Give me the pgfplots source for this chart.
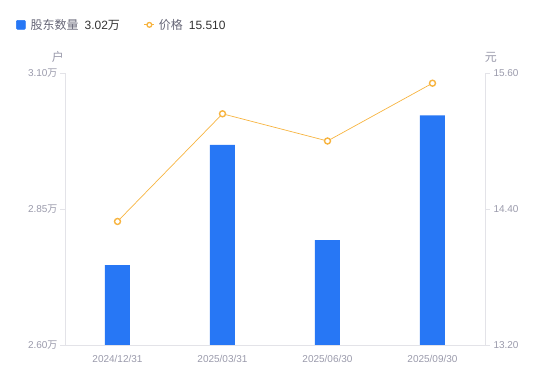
\documentclass[border=0pt]{standalone}
\usepackage{pgfplots}
\pgfplotsset{compat=1.18}
\usepackage{fontspec}
\setmainfont{Liberation Sans}
\newfontfamily\cjk{Noto Sans CJK SC}
\definecolor{barblue}{HTML}{2777F5}
\definecolor{lineorange}{HTML}{F7B440}
\definecolor{txtgray}{HTML}{9A9AAB}
\definecolor{axgray}{HTML}{E3E3E8}
\definecolor{namegray}{HTML}{666677}
\definecolor{dark}{HTML}{333333}
\begin{document}
\begin{tikzpicture}[x=1pt,y=1pt]
\path[use as bounding box] (0,0) rectangle (550,381);
\begin{axis}[
  at={(65pt,36pt)}, anchor=south west,
  scale only axis, width=420pt, height=272pt,
  xmin=-0.5, xmax=3.5, ymin=2.6, ymax=3.1,
  axis x line*=bottom, axis y line*=left,
  axis line style={-, draw=axgray, line width=0.8pt},
  xtick={0,1,2,3},
  xticklabels={2024/12/31,2025/03/31,2025/06/30,2025/09/30},
  xtick style={draw=none},
  ytick={2.6,2.85,3.1},
  yticklabels={2.60{\cjk 万},2.85{\cjk 万},3.10{\cjk 万}},
  ytick style={draw=axgray, line width=0.8pt},
  major tick length=5pt, tick align=outside,
  ticklabel style={font=\fontsize{10}{10}\selectfont, text=txtgray},
  yticklabel style={xshift=1pt},
  xticklabel style={yshift=-2pt},
  ylabel={\cjk 户},
  ylabel style={rotate=-90, at={(axis description cs:-0.017,1.059)}, anchor=center, font=\fontsize{12}{12}\selectfont, text=txtgray},
  clip=true,
]
\addplot[ybar, fill=barblue, draw=none, bar width=25pt] coordinates {
  (0,2.747) (1,2.968) (2,2.793) (3,3.022)
};
\end{axis}
\begin{axis}[
  at={(65pt,36pt)}, anchor=south west,
  scale only axis, width=420pt, height=272pt,
  xmin=-0.5, xmax=3.5, ymin=13.2, ymax=15.6,
  axis x line=none, axis y line*=right,
  axis line style={-, draw=axgray, line width=0.8pt},
  ytick={13.2,14.4,15.6},
  yticklabels={13.20,14.40,15.60},
  ytick style={draw=axgray, line width=0.8pt},
  major tick length=5pt, tick align=outside,
  ticklabel style={font=\fontsize{10}{10}\selectfont, text=txtgray},
  ylabel={\cjk 元},
  ylabel style={rotate=-90, at={(axis description cs:1.014,1.059)}, anchor=center, font=\fontsize{12}{12}\selectfont, text=txtgray},
  legend style={at={(axis description cs:-0.1167,1.177)}, anchor=west, draw=none, fill=none, inner sep=0pt,
    font=\fontsize{12}{12}\selectfont, text=namegray,
    /tikz/every even column/.append style={column sep=22pt}},
  legend columns=2,
  legend cell align=left,
  clip=false,
]
\addlegendimage{legend image code/.code={\fill[barblue, rounded corners=1pt] (0pt,-4.5pt) rectangle (9pt,4.5pt);}}
\addlegendentry{\hspace{3pt}{\cjk 股东数量}\hspace{6pt}\textcolor{dark}{3.02{\cjk 万}}}
\addplot[lineorange, line width=0.7pt, mark=*, mark size=3pt,
  mark options={fill=white, draw=lineorange, line width=1.4pt},
  legend image code/.code={\draw[lineorange, line width=0.9pt] (0pt,0pt)--(10pt,0pt); \draw[lineorange, fill=white, line width=1.3pt] (5pt,0pt) circle (2.4pt);}]
  coordinates {(0,14.29) (1,15.24) (2,15.00) (3,15.51)};
\addlegendentry{\hspace{2pt}{\cjk 价格}\hspace{6pt}\textcolor{dark}{15.510}}
\end{axis}
\end{tikzpicture}
\end{document}
